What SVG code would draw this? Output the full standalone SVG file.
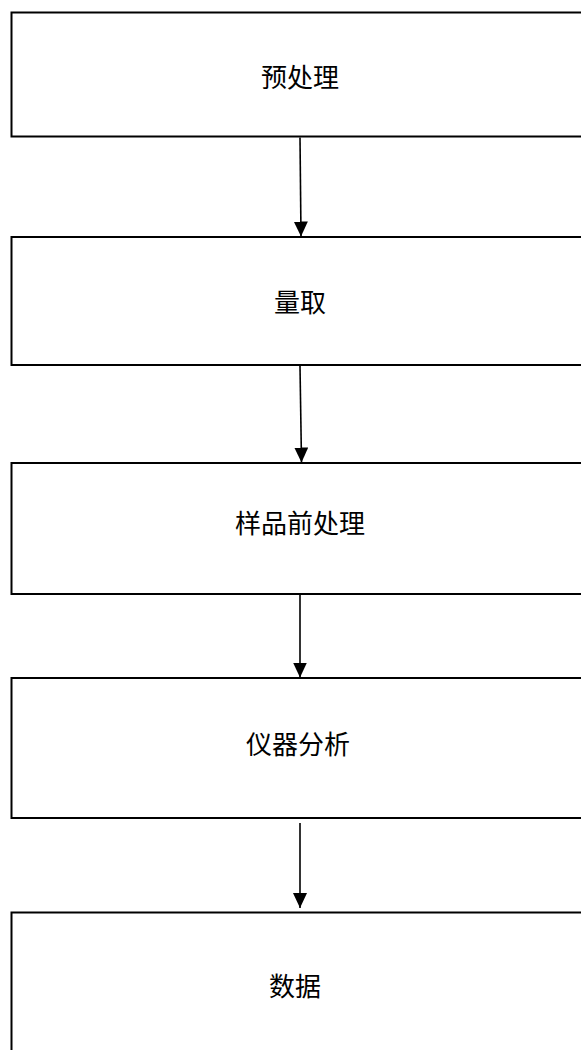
<svg xmlns="http://www.w3.org/2000/svg" width="581" height="1050" viewBox="0 0 581 1050">
<style>
.box{fill:#fff;stroke:#000;stroke-width:2}
.lbl{font-family:"Noto Sans CJK SC","Noto Sans",sans-serif;font-size:26px;fill:#000;text-anchor:middle;dominant-baseline:central}
.edge{stroke:#000;stroke-width:1.6;fill:none}
</style>
<defs>
<marker id="ah" viewBox="0 0 15 14" refX="15" refY="7" markerWidth="15" markerHeight="14" markerUnits="userSpaceOnUse" orient="auto">
<path d="M0,0 L15,7 L0,14 Z" fill="#000"/>
</marker>
</defs>
<rect width="581" height="1050" fill="#fff"/>
<g id="n1"><rect class="box" x="11.5" y="12.5" width="600" height="124"/><text class="lbl" x="300" y="75">预处理</text></g>
<g id="n2"><rect class="box" x="11.5" y="237" width="600" height="128"/><text class="lbl" x="300" y="300">量取</text></g>
<g id="n3"><rect class="box" x="11.5" y="463" width="600" height="131"/><text class="lbl" x="300" y="521">样品前处理</text></g>
<g id="n4"><rect class="box" x="11.5" y="678" width="600" height="140"/><text class="lbl" x="298" y="742">仪器分析</text></g>
<g id="n5"><rect class="box" x="11.5" y="912.5" width="600" height="160"/><text class="lbl" x="295" y="984">数据</text></g>
<g id="edges">
<line class="edge" x1="300" y1="137.5" x2="301" y2="236.5" marker-end="url(#ah)"/>
<line class="edge" x1="300" y1="366" x2="301.5" y2="462.5" marker-end="url(#ah)"/>
<line class="edge" x1="300" y1="595" x2="300" y2="677.5" marker-end="url(#ah)"/>
<line class="edge" x1="300" y1="823" x2="300" y2="908" marker-end="url(#ah)"/>
</g>
</svg>
